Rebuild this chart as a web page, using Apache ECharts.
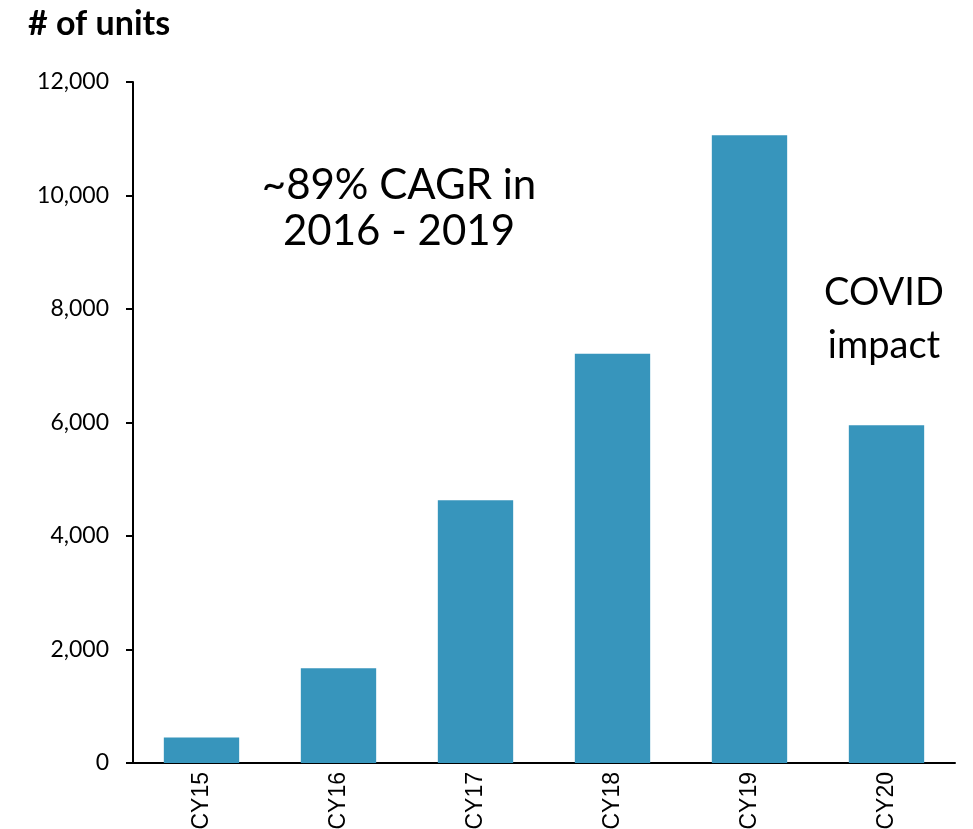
<!DOCTYPE html>
<html>
<head>
<meta charset="utf-8">
<script src="https://cdn.jsdelivr.net/npm/echarts@6/dist/echarts.min.js"></script>
<style>
  html, body { margin: 0; padding: 0; background: #fff; }
  #chart { width: 973px; height: 829px; }
</style>
</head>
<body>
<div id="chart"></div>
<script>
// data
const categories = ['CY15', 'CY16', 'CY17', 'CY18', 'CY19', 'CY20']
const units = [450, 1670, 4630, 7210, 11060, 5950]
const yTicks = [0, 2000, 4000, 6000, 8000, 10000, 12000]

const chart = echarts.init(document.getElementById('chart'))

const option = {
  animation: false,
  title: {
    text: '# of units',
    left: 23,
    top: 2,
    textStyle: {
      fontFamily: 'Lato',
      fontWeight: 'bold',
      fontSize: 34,
      color: '#000'
    }
  },
  grid: {
    left: 133,
    right: 18,
    top: 82,
    bottom: 66,
    outerBoundsMode: 'none',
    containLabel: false
  },
  xAxis: {
    type: 'category',
    data: categories,
    axisLine: { lineStyle: { color: '#000', width: 2 } },
    axisTick: { show: false },
    axisLabel: {
      rotate: 90,
      margin: 9,
      fontFamily: 'Liberation Sans',
      fontSize: 23,
      color: '#000'
    }
  },
  yAxis: {
    type: 'value',
    min: yTicks[0],
    max: yTicks[yTicks.length - 1],
    interval: 2000,
    splitLine: { show: false },
    axisLine: { show: true, lineStyle: { color: '#000', width: 2 } },
    axisTick: { show: true, length: 7, lineStyle: { color: '#000', width: 2 } },
    axisLabel: {
      margin: 24,
      fontFamily: 'Lato',
      fontSize: 23,
      color: '#000',
      formatter: (v) => v.toLocaleString('en-US')
    }
  },
  series: [
    {
      type: 'bar',
      data: units,
      barWidth: '55%',
      itemStyle: { color: '#3795BC' }
    }
  ],
  graphic: [
    {
      type: 'text',
      x: 399,
      y: 162,
      style: {
        text: '~89% CAGR in\n2016 - 2019',
        textAlign: 'center',
        textVerticalAlign: 'top',
        fontFamily: 'Lato',
        fontSize: 42,
        lineHeight: 46,
        fill: '#000'
      }
    },
    {
      type: 'text',
      x: 884,
      y: 266,
      style: {
        text: 'COVID\nimpact',
        textAlign: 'center',
        textVerticalAlign: 'top',
        fontFamily: 'Lato',
        fontSize: 38,
        lineHeight: 53,
        fill: '#000'
      }
    }
  ]
}

chart.setOption(option)
</script>
</body>
</html>
